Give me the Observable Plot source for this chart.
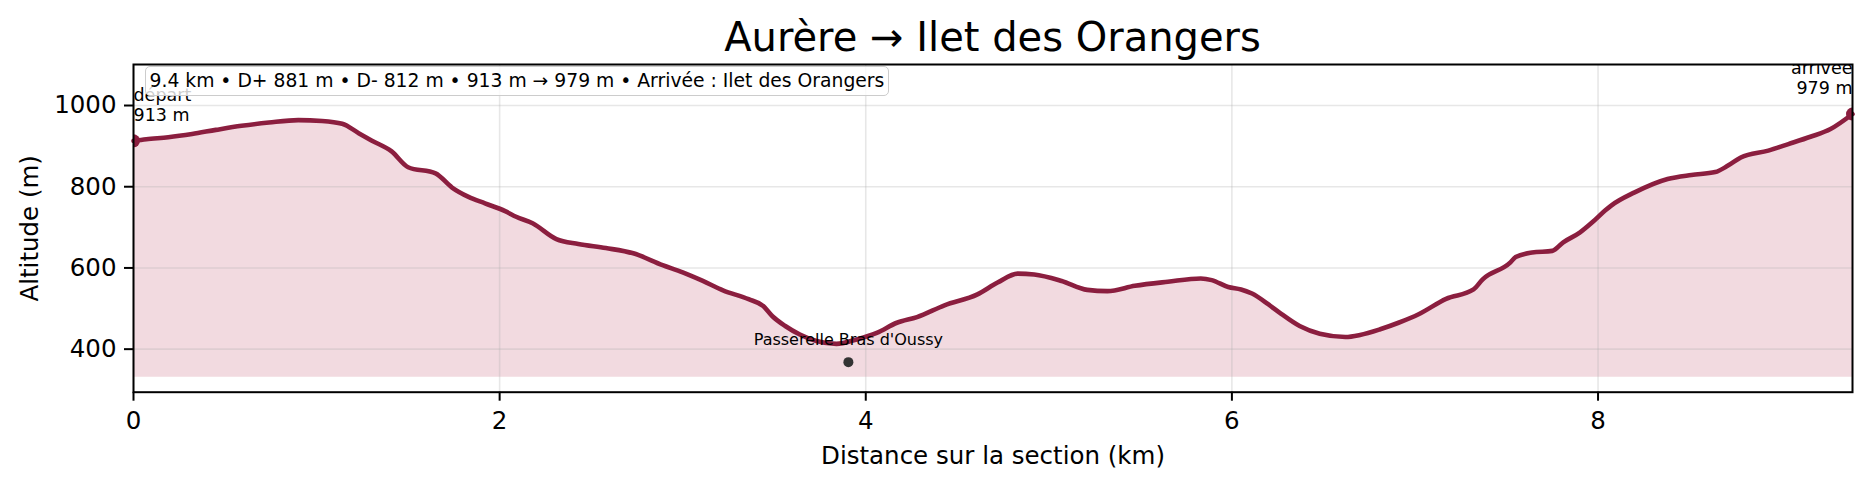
<!DOCTYPE html>
<html>
<head>
<meta charset="utf-8">
<script src="https://cdn.jsdelivr.net/npm/d3@7"></script>
<script src="https://cdn.jsdelivr.net/npm/@observablehq/plot@0.6"></script>
<style>
  body { margin: 0; background: #fff; font-family: "DejaVu Sans", sans-serif; }
  #wrap { position: relative; width: 1871px; height: 485px; overflow: hidden; }
  #title { height: 60px; box-sizing: border-box; padding: 17px 19px 0 133px; font-size: 40px; line-height: 40px; text-align: center; color: #000; white-space: nowrap; }
  #chart svg { display: block; }
  #stats { position: absolute; left: 145px; top: 66px; height: 28px; line-height: 28px; padding: 0 4px 0 3.5px; font-size: 18.75px; color: #000; background: rgba(255,255,255,0.8); border: 1.5px solid #cccccc; border-radius: 5px; white-space: nowrap; }
</style>
</head>
<body>
<div id="wrap">
  <div id="title"></div>
  <div id="chart"></div>
  <div id="stats"></div>
</div>
<script>
const titleText = "Aurère → Ilet des Orangers";
const statsText = "9.4 km • D+ 881 m • D- 812 m • 913 m → 979 m • Arrivée : Ilet des Orangers";
const xLabel = "Distance sur la section (km)";
const yLabel = "Altitude (m)";

const distanceKm = [0, 0.07, 0.19, 0.32, 0.45, 0.59, 0.74, 0.90, 1.03, 1.14, 1.23, 1.30, 1.41, 1.50, 1.65, 1.74, 1.83, 1.92, 2.03, 2.09, 2.18, 2.31, 2.43, 2.58, 2.73, 2.89, 3.00, 3.11, 3.22, 3.36, 3.44, 3.49, 3.56, 3.64, 3.73, 3.84, 3.95, 4.06, 4.17, 4.28, 4.43, 4.61, 4.72, 4.83, 4.92, 5.07, 5.21, 5.32, 5.47, 5.65, 5.83, 5.89, 5.98, 6.05, 6.11, 6.20, 6.26, 6.37, 6.48, 6.62, 6.70, 6.81, 6.91, 7.02, 7.17, 7.32, 7.37, 7.52, 7.55, 7.64, 7.75, 7.81, 7.90, 7.97, 8.04, 8.07, 8.20, 8.38, 8.51, 8.64, 8.71, 8.78, 8.93, 9.04, 9.16, 9.27, 9.39];
const altitudeM = [913, 917, 922, 930, 940, 950, 958, 964, 962, 955, 932, 914, 887, 848, 833, 798, 775, 759, 740, 726, 710, 671, 659, 649, 636, 607, 589, 568, 545, 523, 506, 481, 457, 436, 420, 413, 424, 440, 465, 479, 508, 535, 564, 586, 584, 568, 546, 543, 556, 566, 574, 570, 553, 547, 537, 510, 490, 457, 438, 430, 435, 449, 465, 486, 524, 547, 572, 613, 627, 638, 642, 663, 687, 713, 742, 753, 786, 819, 829, 836, 852, 872, 889, 905, 923, 942, 979];

const xTicks = [0, 2, 4, 6, 8];
const yTicks = [400, 600, 800, 1000];
const xDomain = [0, 9.39];
const yDomain = [294, 1101];
const fillBaseAlt = 331;

const startPoint = [{d: 0, a: 913, label: "départ\n913 m"}];
const endPoint = [{d: 9.39, a: 979, label: "arrivée\n979 m"}];
const poi = [{d: 3.905, a: 368, label: "Passerelle Bras d'Oussy"}];

const lineColor = "#8b1e3f";
const fillColor = "#f2dae0";

document.getElementById("title").textContent = titleText;
document.getElementById("stats").textContent = statsText;

const profile = distanceKm.map((d, i) => ({d, a: altitudeM[i]}));
const fmt = (v) => String(v);

const chart = Plot.plot({
  width: 1871,
  height: 425,
  marginTop: 4,
  marginBottom: 93.3,
  marginLeft: 133,
  marginRight: 19,
  style: {fontFamily: "DejaVu Sans", fontSize: "24.5px", background: "white", color: "black", overflow: "visible"},
  x: {domain: xDomain, ticks: xTicks, tickFormat: fmt},
  y: {domain: yDomain, ticks: yTicks, tickFormat: fmt},
  marks: [
    Plot.areaY(profile, {x: "d", y1: fillBaseAlt, y2: "a", fill: fillColor, curve: "monotone-x"}),
    Plot.gridX(xTicks, {stroke: "#b0b0b0", strokeOpacity: 0.3, strokeWidth: 1.6}),
    Plot.gridY(yTicks, {stroke: "#b0b0b0", strokeOpacity: 0.3, strokeWidth: 1.6}),
    Plot.line(profile, {x: "d", y: "a", stroke: lineColor, strokeWidth: 4.6, strokeLinejoin: "round", strokeLinecap: "round", curve: "monotone-x"}),
    Plot.dot(startPoint.concat(endPoint), {x: "d", y: "a", r: 6.5, fill: lineColor, stroke: "none", clip: true}),
    Plot.dot(poi, {x: "d", y: "a", r: 5, fill: "#333333", stroke: "none"}),
    Plot.text(poi, {x: "d", y: "a", text: "label", dy: -16.7, lineAnchor: "bottom", textAnchor: "middle", fontSize: 16, fill: "black"}),
    Plot.text(startPoint, {x: "d", y: "a", text: "label", dy: -19.5, lineAnchor: "bottom", textAnchor: "start", fontSize: 17.5, lineHeight: 1.17, fill: "black", clip: true}),
    Plot.text(endPoint, {x: "d", y: "a", text: "label", dy: -20.2, lineAnchor: "bottom", textAnchor: "end", fontSize: 17.5, lineHeight: 1.15, fill: "black", clip: true}),
    Plot.frame({stroke: "black", strokeWidth: 2}),
    Plot.axisX(xTicks, {tickSize: 9, tickPadding: 10, strokeWidth: 2, fontSize: 24.5, tickFormat: fmt, label: xLabel, labelAnchor: "center", labelOffset: 71.3, labelArrow: "none"}),
    Plot.axisY(yTicks, {tickSize: 9, tickPadding: 8, strokeWidth: 2, fontSize: 24.5, tickFormat: fmt, label: yLabel, labelAnchor: "center", labelOffset: 113, labelArrow: "none"})
  ]
});
document.getElementById("chart").appendChild(chart);
</script>
</body>
</html>
